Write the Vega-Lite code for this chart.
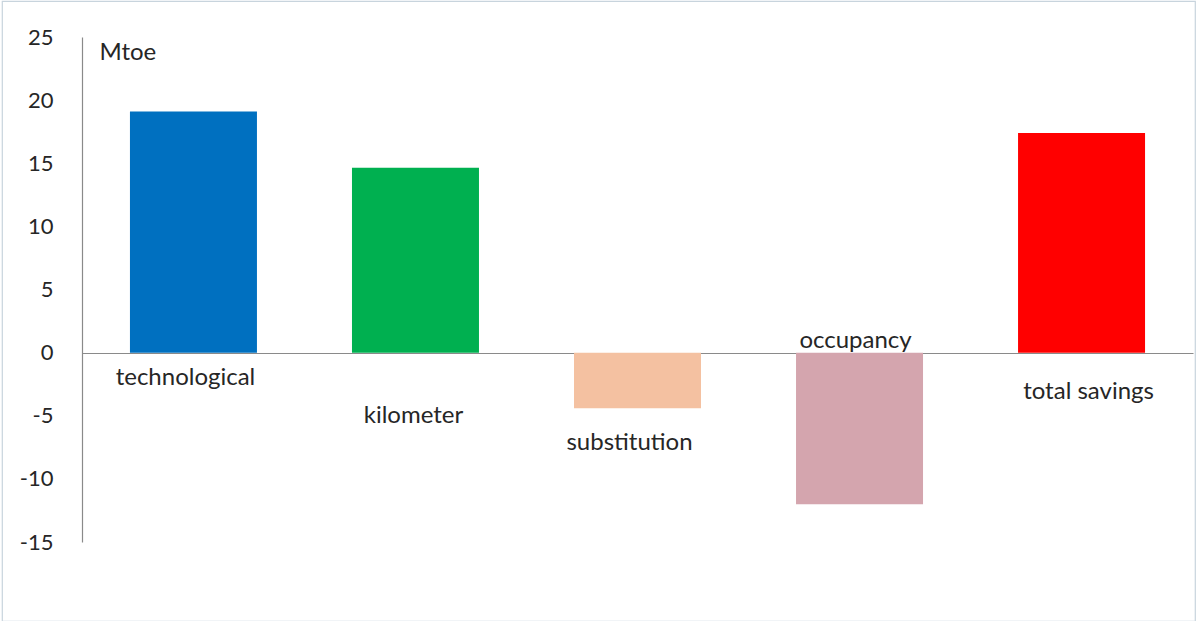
{
  "$schema": "https://vega.github.io/schema/vega-lite/v6.json",
  "width": 1193,
  "height": 620,
  "autosize": {"type": "none"},
  "padding": {"left": 2, "top": 1, "right": 1, "bottom": 0},
  "background": "white",
  "config": {
    "view": {"stroke": "#c8d4dd", "strokeWidth": 1.2},
    "font": "Lato",
    "text": {"font": "Lato", "fontSize": 24, "color": "#262626", "baseline": "alphabetic"}
  },
  "data": {
    "values": [
      {"category": "technological", "value": 19.1},
      {"category": "kilometer", "value": 14.65},
      {"category": "substitution", "value": -4.4},
      {"category": "occupancy", "value": -12.0},
      {"category": "total savings", "value": 17.4}
    ]
  },
  "encoding": {
    "x": {
      "field": "category",
      "type": "nominal",
      "sort": null,
      "scale": {"range": [80, 1191], "paddingInner": 0.428, "paddingOuter": 0.216},
      "axis": {
        "orient": "bottom",
        "offset": -268,
        "labels": false,
        "ticks": false,
        "title": null,
        "domainColor": "#8a8a8a",
        "domainWidth": 1.2
      }
    }
  },
  "layer": [
    {
      "mark": {"type": "bar"},
      "encoding": {
        "y": {
          "field": "value",
          "type": "quantitative",
          "scale": {"domain": [-15, 25], "range": [541, 36], "nice": false, "zero": false},
          "axis": {
            "orient": "left",
            "offset": -80,
            "values": [-15, -10, -5, 0, 5, 10, 15, 20, 25],
            "labelExpr": "toString(datum.value)",
            "ticks": false,
            "grid": false,
            "labelPadding": 29,
            "labelFont": "Lato",
            "labelFontSize": 22,
            "labelColor": "#262626",
            "domainColor": "#8a8a8a",
            "domainWidth": 1.2,
            "title": "Mtoe",
            "titleAngle": 0,
            "titleAlign": "left",
            "titleBaseline": "alphabetic",
            "titleX": 17,
            "titleY": 58,
            "titleFont": "Lato",
            "titleFontSize": 24,
            "titleFontWeight": "normal",
            "titleColor": "#262626"
          }
        },
        "color": {
          "field": "category",
          "type": "nominal",
          "sort": null,
          "legend": null,
          "scale": {
            "domain": ["technological", "kilometer", "substitution", "occupancy", "total savings"],
            "range": ["#0070c0", "#00b050", "#f4c1a1", "#d4a5ae", "#ff0000"]
          }
        }
      }
    },
    {
      "transform": [{"filter": "datum.category === 'technological'"}],
      "mark": {"type": "text", "dx": -8},
      "encoding": {"y": {"datum": -2.53}, "text": {"field": "category"}}
    },
    {
      "transform": [{"filter": "datum.category === 'kilometer'"}],
      "mark": {"type": "text", "dx": -2},
      "encoding": {"y": {"datum": -5.54}, "text": {"field": "category"}}
    },
    {
      "transform": [{"filter": "datum.category === 'substitution'"}],
      "mark": {"type": "text", "dx": -8},
      "encoding": {"y": {"datum": -7.74}, "text": {"field": "category"}}
    },
    {
      "transform": [{"filter": "datum.category === 'occupancy'"}],
      "mark": {"type": "text", "dx": -4},
      "encoding": {"y": {"datum": 0.37}, "text": {"field": "category"}}
    },
    {
      "transform": [{"filter": "datum.category === 'total savings'"}],
      "mark": {"type": "text", "dx": 7},
      "encoding": {"y": {"datum": -3.67}, "text": {"field": "category"}}
    }
  ]
}
